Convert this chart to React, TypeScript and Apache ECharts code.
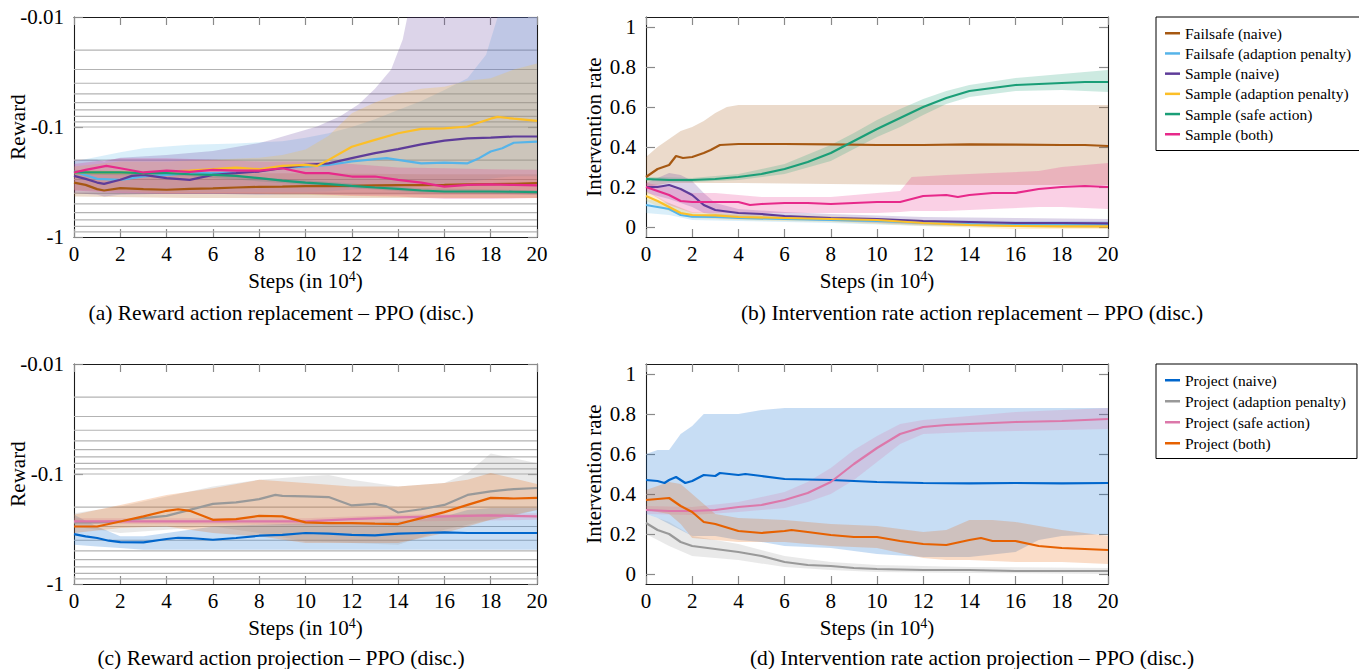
import React, { useEffect, useRef } from "react";
import * as echarts from "echarts";

const FONT = '"Liberation Serif", "Times New Roman", serif';

// ---------- axes ----------
const STEP_MIN = 0;
const STEP_MAX = 20;
const STEP_INTERVAL = 2;
const REWARD_TOP = -0.01;
const REWARD_BOTTOM = -1;
const REWARD_GRID_LINES = [-0.02, -0.03, -0.04, -0.05, -0.06, -0.07, -0.08, -0.09, -0.1, -0.2, -0.3, -0.4, -0.5, -0.6, -0.7, -0.8, -0.9];
const RATE_MIN = -0.05;
const RATE_MAX = 1.05;
const RATE_TICKS = [0, 0.2, 0.4, 0.6, 0.8, 1];

const REPLACEMENT_NAMES = [
  "Failsafe (naive)",
  "Failsafe (adaption penalty)",
  "Sample (naive)",
  "Sample (adaption penalty)",
  "Sample (safe action)",
  "Sample (both)",
];
const PROJECTION_NAMES = ["Project (naive)", "Project (adaption penalty)", "Project (safe action)", "Project (both)"];

const REPLACEMENT_COLORS = ["#a65812", "#56b4e9", "#5e3c99", "#fcbf27", "#1a9e77", "#e7298a"];
const PROJECTION_COLORS = ["#0066cc", "#999999", "#dc78aa", "#e66101"];

const CAPTIONS = [
  "(a) Reward action replacement – PPO (disc.)",
  "(b) Intervention rate action replacement – PPO (disc.)",
  "(c) Reward action projection – PPO (disc.)",
  "(d) Intervention rate action projection – PPO (disc.)",
];

// ---------- (a) reward, action replacement: [step, reward] ----------
const REW_REP_FAILSAFE_NAIVE = [[0,-0.320],[0.5,-0.336],[1,-0.367],[1.3,-0.378],[2,-0.360],[3,-0.367],[4,-0.372],[5,-0.365],[6,-0.362],[7,-0.355],[8,-0.350],[9,-0.348],[10,-0.345],[11,-0.345],[12,-0.343],[13,-0.340],[14,-0.338],[15,-0.338],[16,-0.336],[17,-0.333],[18,-0.331],[19,-0.329],[20,-0.324]];
const REW_REP_FAILSAFE_PEN = [[0,-0.254],[1,-0.296],[2,-0.302],[3,-0.282],[4,-0.272],[5,-0.263],[6,-0.263],[7,-0.259],[8,-0.245],[9,-0.234],[10,-0.229],[11,-0.221],[12,-0.206],[13,-0.196],[13.5,-0.192],[14,-0.199],[15,-0.214],[16,-0.211],[17,-0.214],[17.5,-0.192],[18,-0.167],[18.5,-0.156],[19,-0.139],[20,-0.136]];
const REW_REP_SAMPLE_NAIVE = [[0,-0.278],[0.5,-0.296],[1,-0.320],[1.3,-0.329],[2,-0.302],[2.5,-0.278],[3,-0.272],[4,-0.292],[5,-0.302],[6,-0.272],[7,-0.263],[8,-0.254],[9,-0.237],[10,-0.221],[11,-0.214],[12,-0.192],[13,-0.173],[14,-0.159],[15,-0.144],[16,-0.133],[17,-0.127],[18,-0.125],[19,-0.122],[20,-0.122]];
const REW_REP_SAMPLE_PEN = [[0,-0.259],[1,-0.259],[2,-0.259],[3,-0.263],[4,-0.254],[5,-0.249],[6,-0.242],[7,-0.234],[8,-0.242],[9,-0.226],[10,-0.221],[10.5,-0.226],[11,-0.199],[12,-0.151],[13,-0.131],[14,-0.114],[15,-0.104],[16,-0.103],[17,-0.099],[17.5,-0.091],[18,-0.084],[18.3,-0.081],[19,-0.084],[20,-0.088]];
const REW_REP_SAMPLE_SAFE = [[0,-0.259],[2,-0.259],[3,-0.263],[4,-0.263],[5,-0.269],[6,-0.272],[7,-0.278],[8,-0.292],[9,-0.307],[10,-0.320],[11,-0.331],[12,-0.343],[13,-0.355],[14,-0.365],[15,-0.378],[16,-0.386],[17,-0.386],[18,-0.386],[19,-0.388],[20,-0.391]];
const REW_REP_SAMPLE_BOTH = [[0,-0.259],[0.5,-0.245],[1.4,-0.226],[2,-0.237],[3,-0.259],[4,-0.249],[5,-0.256],[6,-0.245],[7,-0.249],[8,-0.249],[9,-0.237],[10,-0.263],[11,-0.263],[12,-0.282],[13,-0.282],[14,-0.302],[15,-0.320],[16,-0.348],[17,-0.336],[18,-0.333],[19,-0.336],[20,-0.340]];

// bands: [step, upper reward, lower reward]
const BAND_REW_REP_FAILSAFE_NAIVE = [[0,-0.245,-0.428],[5,-0.263,-0.443],[10,-0.263,-0.443],[15,-0.269,-0.443],[20,-0.269,-0.443]];
const BAND_REW_REP_FAILSAFE_PEN = [[0,-0.206,-0.372],[2,-0.17,-0.39],[3,-0.156,-0.39],[5,-0.145,-0.39],[7,-0.141,-0.39],[9,-0.135,-0.39],[10,-0.125,-0.39],[11,-0.114,-0.385],[12,-0.1,-0.37],[13,-0.085,-0.36],[14,-0.07,-0.35],[15,-0.058,-0.34],[16,-0.046,-0.33],[17,-0.036,-0.32],[17.8,-0.022,-0.3],[18.3,-0.01,-0.29],[19,-0.006,-0.28],[20,-0.006,-0.28]];
const BAND_REW_REP_SAMPLE_NAIVE = [[0,-0.199,-0.399],[1,-0.199,-0.413],[1.3,-0.206,-0.428],[2,-0.19,-0.413],[4,-0.18,-0.405],[6,-0.165,-0.405],[8,-0.14,-0.413],[8.5,-0.131,-0.413],[9.5,-0.114,-0.413],[10.5,-0.099,-0.413],[11.5,-0.08,-0.413],[12.3,-0.062,-0.413],[13,-0.045,-0.413],[13.7,-0.03,-0.413],[14.2,-0.016,-0.413],[14.4,-0.01,-0.413],[15,-0.006,-0.413],[20,-0.006,-0.413]];
const BAND_REW_REP_SAMPLE_PEN = [[0,-0.229,-0.372],[2,-0.206,-0.385],[4,-0.206,-0.399],[6,-0.199,-0.399],[8,-0.19,-0.405],[9,-0.18,-0.41],[10,-0.16,-0.413],[11,-0.12,-0.42],[12,-0.075,-0.425],[13,-0.06,-0.428],[14,-0.05,-0.43],[15,-0.045,-0.435],[16,-0.043,-0.44],[17,-0.038,-0.443],[18,-0.036,-0.443],[19,-0.03,-0.443],[20,-0.0265,-0.443]];
const BAND_REW_REP_SAMPLE_SAFE = [[0,-0.25,-0.27],[5,-0.26,-0.28],[10,-0.305,-0.335],[15,-0.36,-0.395],[20,-0.375,-0.41]];
const BAND_REW_REP_SAMPLE_BOTH = [[0,-0.217,-0.378],[2,-0.192,-0.399],[4,-0.192,-0.405],[6,-0.199,-0.405],[8,-0.206,-0.405],[10,-0.206,-0.405],[12,-0.217,-0.422],[14,-0.234,-0.428],[16,-0.237,-0.452],[18,-0.242,-0.452],[20,-0.245,-0.443]];

// ---------- (b) intervention rate, action replacement ----------
const RATE_REP_FAILSAFE_NAIVE = [[0,0.25],[0.5,0.29],[1,0.31],[1.3,0.355],[1.6,0.345],[2,0.35],[2.5,0.37],[2.8,0.385],[3.2,0.41],[4,0.415],[6,0.415],[8,0.413],[10,0.41],[12,0.41],[14,0.413],[16,0.412],[18,0.41],[19,0.41],[20,0.405]];
const RATE_REP_FAILSAFE_PEN = [[0,0.11],[0.5,0.1],[1,0.09],[1.5,0.06],[2,0.052],[3,0.05],[4,0.045],[6,0.04],[8,0.035],[10,0.03],[12,0.02],[14,0.015],[16,0.012],[18,0.012],[20,0.012]];
const RATE_REP_SAMPLE_NAIVE = [[0,0.2],[0.5,0.2],[1,0.21],[1.5,0.19],[2,0.16],[2.5,0.11],[3,0.085],[4,0.07],[5,0.065],[6,0.055],[8,0.045],[10,0.04],[12,0.03],[14,0.025],[16,0.02],[18,0.02],[20,0.018]];
const RATE_REP_SAMPLE_PEN = [[0,0.155],[0.5,0.13],[1,0.1],[1.5,0.07],[2,0.06],[3,0.058],[4,0.05],[6,0.045],[8,0.04],[10,0.035],[12,0.02],[14,0.01],[16,0.005],[18,0.003],[20,0.003]];
const RATE_REP_SAMPLE_SAFE = [[0,0.24],[1,0.235],[2,0.235],[3,0.24],[4,0.25],[5,0.265],[6,0.29],[7,0.325],[8,0.37],[9,0.43],[10,0.49],[11,0.545],[12,0.6],[13,0.645],[14,0.68],[15,0.695],[16,0.71],[17,0.715],[18,0.72],[19,0.725],[20,0.725]];
const RATE_REP_SAMPLE_BOTH = [[0,0.2],[0.5,0.18],[1,0.16],[1.5,0.13],[2,0.125],[3,0.125],[4,0.125],[4.5,0.11],[5,0.115],[6,0.12],[7,0.12],[8,0.115],[9,0.12],[10,0.125],[11,0.125],[11.5,0.14],[12,0.155],[13,0.16],[13.5,0.15],[14,0.16],[15,0.17],[16,0.17],[17,0.19],[18,0.2],[19,0.205],[20,0.2]];

const BAND_RATE_REP_FAILSAFE_NAIVE = [[0,0.2,0.35],[0.5,0.21,0.4],[1,0.22,0.44],[1.5,0.22,0.48],[2,0.22,0.5],[2.5,0.22,0.53],[3,0.22,0.57],[3.5,0.22,0.6],[4,0.22,0.61],[8,0.215,0.61],[12,0.21,0.61],[16,0.21,0.61],[20,0.21,0.61]];
const BAND_RATE_REP_FAILSAFE_PEN = [[0,0.07,0.14],[1,0.06,0.12],[2,0.035,0.07],[4,0.03,0.06],[8,0.02,0.05],[12,0.005,0.035],[16,0,0.03],[20,0,0.03]];
const BAND_RATE_REP_SAMPLE_NAIVE = [[0,0.17,0.22],[1,0.14,0.27],[1.5,0.12,0.26],[2,0.1,0.23],[2.5,0.07,0.17],[3,0.06,0.12],[4,0.05,0.09],[6,0.04,0.075],[8,0.03,0.065],[12,0.01,0.05],[16,0,0.045],[20,-0.005,0.04]];
const BAND_RATE_REP_SAMPLE_PEN = [[0,0.13,0.18],[1,0.08,0.12],[2,0.045,0.075],[4,0.035,0.065],[8,0.025,0.055],[12,0.005,0.035],[16,-0.01,0.02],[20,-0.01,0.015]];
const BAND_RATE_REP_SAMPLE_SAFE = [[0,0.23,0.25],[2,0.225,0.245],[4,0.235,0.265],[6,0.265,0.315],[8,0.33,0.41],[9,0.39,0.47],[10,0.45,0.535],[11,0.5,0.59],[12,0.56,0.64],[13,0.615,0.68],[14,0.65,0.71],[16,0.68,0.745],[18,0.685,0.765],[20,0.675,0.785]];
const BAND_RATE_REP_SAMPLE_BOTH = [[0,0.18,0.22],[1,0.11,0.2],[2,0.07,0.17],[3,0.07,0.17],[5,0.07,0.15],[8,0.07,0.15],[10,0.07,0.17],[11,0.075,0.18],[11.5,0.08,0.25],[13,0.08,0.26],[15,0.09,0.27],[17,0.1,0.28],[18,0.1,0.3],[20,0.09,0.32]];

// ---------- (c) reward, action projection ----------
const REW_PROJ_NAIVE = [[0,-0.352],[0.5,-0.369],[1,-0.382],[1.5,-0.404],[2,-0.416],[3,-0.419],[4,-0.390],[4.5,-0.380],[5,-0.382],[6,-0.396],[7,-0.382],[8,-0.364],[9,-0.357],[10,-0.344],[11,-0.349],[12,-0.357],[13,-0.362],[14,-0.349],[15,-0.344],[16,-0.340],[17,-0.344],[18,-0.344],[19,-0.344],[20,-0.344]];
const REW_PROJ_PEN = [[0,-0.275],[1,-0.275],[2,-0.270],[3,-0.252],[4,-0.240],[5,-0.212],[6,-0.187],[7,-0.181],[8,-0.169],[8.7,-0.155],[9,-0.158],[10,-0.160],[11,-0.162],[12,-0.193],[13,-0.187],[13.5,-0.197],[14,-0.224],[15,-0.209],[16,-0.191],[17,-0.155],[18,-0.144],[19,-0.137],[20,-0.134]];
const REW_PROJ_SAFE = [[0,-0.270],[5,-0.270],[10,-0.270],[12,-0.257],[14,-0.248],[16,-0.243],[18,-0.238],[20,-0.243]];
const REW_PROJ_BOTH = [[0,-0.300],[1,-0.300],[2,-0.270],[3,-0.243],[4,-0.216],[4.5,-0.209],[5,-0.216],[6,-0.261],[7,-0.257],[8,-0.240],[9,-0.243],[10,-0.275],[11,-0.280],[12,-0.280],[13,-0.283],[14,-0.285],[15,-0.252],[16,-0.222],[17,-0.191],[18,-0.165],[19,-0.167],[20,-0.165]];

const BAND_REW_PROJ_NAIVE = [[0,-0.235,-0.44],[1,-0.30,-0.455],[2,-0.369,-0.471],[3,-0.369,-0.488],[4,-0.344,-0.488],[5,-0.321,-0.488],[6,-0.30,-0.488],[8,-0.289,-0.488],[10,-0.28,-0.488],[12,-0.28,-0.488],[14,-0.27,-0.488],[16,-0.243,-0.488],[17,-0.212,-0.488],[18,-0.204,-0.488],[20,-0.204,-0.488]];
const BAND_REW_PROJ_PEN = [[0,-0.227,-0.30],[2,-0.197,-0.344],[4,-0.160,-0.321],[6,-0.130,-0.30],[8,-0.113,-0.344],[10,-0.105,-0.41],[11,-0.102,-0.415],[12,-0.113,-0.424],[14,-0.130,-0.44],[16,-0.121,-0.321],[17,-0.098,-0.29],[18,-0.065,-0.261],[19,-0.072,-0.24],[20,-0.080,-0.212]];
const BAND_REW_PROJ_SAFE = [[0,-0.252,-0.283],[10,-0.252,-0.289],[14,-0.235,-0.27],[20,-0.227,-0.261]];
const BAND_REW_PROJ_BOTH = [[0,-0.235,-0.344],[2,-0.191,-0.310],[4,-0.155,-0.30],[6,-0.135,-0.344],[8,-0.113,-0.369],[10,-0.121,-0.424],[12,-0.130,-0.424],[14,-0.130,-0.424],[16,-0.121,-0.344],[17,-0.113,-0.30],[18,-0.098,-0.261],[20,-0.123,-0.212]];

// ---------- (d) intervention rate, action projection ----------
const RATE_PROJ_NAIVE = [[0,0.47],[0.5,0.465],[0.8,0.455],[1,0.47],[1.3,0.485],[1.7,0.455],[2,0.465],[2.5,0.495],[3,0.49],[3.2,0.505],[4,0.495],[4.3,0.5],[5,0.49],[6,0.475],[8,0.47],[10,0.46],[12,0.455],[14,0.453],[16,0.455],[18,0.453],[20,0.455]];
const RATE_PROJ_PEN = [[0,0.255],[0.5,0.22],[1,0.2],[1.5,0.16],[2,0.14],[3,0.125],[4,0.11],[5,0.09],[6,0.06],[7,0.045],[8,0.04],[9,0.03],[10,0.025],[12,0.02],[14,0.02],[16,0.015],[18,0.015],[20,0.015]];
const RATE_PROJ_SAFE = [[0,0.32],[1,0.315],[2,0.315],[3,0.32],[4,0.335],[5,0.345],[6,0.37],[7,0.405],[8,0.46],[9,0.55],[10,0.63],[11,0.7],[12,0.735],[13,0.745],[14,0.75],[16,0.76],[18,0.765],[20,0.775]];
const RATE_PROJ_BOTH = [[0,0.37],[0.5,0.375],[1,0.38],[1.5,0.34],[2,0.31],[2.5,0.26],[3,0.25],[4,0.215],[5,0.205],[6,0.215],[6.3,0.22],[7,0.21],[8,0.195],[9,0.185],[10,0.185],[11,0.165],[12,0.15],[13,0.145],[14,0.17],[14.5,0.18],[15,0.165],[16,0.165],[17,0.14],[18,0.13],[19,0.125],[20,0.12]];

const BAND_RATE_PROJ_NAIVE = [[0,0.3,0.6],[0.5,0.28,0.62],[1,0.25,0.62],[1.5,0.22,0.7],[2,0.19,0.74],[2.5,0.19,0.8],[3,0.19,0.8],[4,0.17,0.8],[5,0.16,0.82],[6,0.14,0.83],[8,0.13,0.83],[10,0.1,0.83],[12,0.085,0.83],[14,0.085,0.83],[16,0.11,0.83],[17,0.17,0.83],[18,0.19,0.83],[20,0.2,0.83]];
const BAND_RATE_PROJ_PEN = [[0,0.2,0.3],[1,0.14,0.26],[2,0.09,0.19],[3,0.08,0.17],[4,0.07,0.15],[6,0.035,0.09],[8,0.02,0.06],[10,0.01,0.045],[14,0.005,0.035],[20,0,0.03]];
const BAND_RATE_PROJ_SAFE = [[0,0.3,0.34],[2,0.295,0.335],[4,0.31,0.36],[6,0.33,0.41],[7,0.36,0.46],[8,0.4,0.53],[9,0.47,0.62],[10,0.56,0.69],[11,0.65,0.75],[12,0.7,0.77],[14,0.71,0.79],[16,0.715,0.81],[18,0.72,0.82],[20,0.725,0.83]];
const BAND_RATE_PROJ_BOTH = [[0,0.32,0.42],[1,0.3,0.46],[1.5,0.25,0.45],[2,0.18,0.4],[3,0.17,0.3],[4,0.16,0.28],[6,0.16,0.27],[8,0.14,0.25],[10,0.13,0.24],[12,0.08,0.21],[13,0.07,0.22],[14,0.07,0.27],[15,0.065,0.27],[16,0.06,0.26],[18,0.06,0.22],[20,0.05,0.19]];

// ---------- panel assembly ----------
type Entry = { line: number[][]; band: number[][] };
const PANELS: { kind: "reward" | "rate"; names: string[]; colors: string[]; entries: Entry[] }[] = [
  {
    kind: "reward", names: REPLACEMENT_NAMES, colors: REPLACEMENT_COLORS,
    entries: [
      { line: REW_REP_FAILSAFE_NAIVE, band: BAND_REW_REP_FAILSAFE_NAIVE },
      { line: REW_REP_FAILSAFE_PEN, band: BAND_REW_REP_FAILSAFE_PEN },
      { line: REW_REP_SAMPLE_NAIVE, band: BAND_REW_REP_SAMPLE_NAIVE },
      { line: REW_REP_SAMPLE_PEN, band: BAND_REW_REP_SAMPLE_PEN },
      { line: REW_REP_SAMPLE_SAFE, band: BAND_REW_REP_SAMPLE_SAFE },
      { line: REW_REP_SAMPLE_BOTH, band: BAND_REW_REP_SAMPLE_BOTH },
    ],
  },
  {
    kind: "rate", names: REPLACEMENT_NAMES, colors: REPLACEMENT_COLORS,
    entries: [
      { line: RATE_REP_FAILSAFE_NAIVE, band: BAND_RATE_REP_FAILSAFE_NAIVE },
      { line: RATE_REP_FAILSAFE_PEN, band: BAND_RATE_REP_FAILSAFE_PEN },
      { line: RATE_REP_SAMPLE_NAIVE, band: BAND_RATE_REP_SAMPLE_NAIVE },
      { line: RATE_REP_SAMPLE_PEN, band: BAND_RATE_REP_SAMPLE_PEN },
      { line: RATE_REP_SAMPLE_SAFE, band: BAND_RATE_REP_SAMPLE_SAFE },
      { line: RATE_REP_SAMPLE_BOTH, band: BAND_RATE_REP_SAMPLE_BOTH },
    ],
  },
  {
    kind: "reward", names: PROJECTION_NAMES, colors: PROJECTION_COLORS,
    entries: [
      { line: REW_PROJ_NAIVE, band: BAND_REW_PROJ_NAIVE },
      { line: REW_PROJ_PEN, band: BAND_REW_PROJ_PEN },
      { line: REW_PROJ_SAFE, band: BAND_REW_PROJ_SAFE },
      { line: REW_PROJ_BOTH, band: BAND_REW_PROJ_BOTH },
    ],
  },
  {
    kind: "rate", names: PROJECTION_NAMES, colors: PROJECTION_COLORS,
    entries: [
      { line: RATE_PROJ_NAIVE, band: BAND_RATE_PROJ_NAIVE },
      { line: RATE_PROJ_PEN, band: BAND_RATE_PROJ_PEN },
      { line: RATE_PROJ_SAFE, band: BAND_RATE_PROJ_SAFE },
      { line: RATE_PROJ_BOTH, band: BAND_RATE_PROJ_BOTH },
    ],
  },
];

const GRIDS = [
  { left: 74, top: 17, width: 463, height: 220 },
  { left: 646, top: 17, width: 462, height: 220 },
  { left: 74, top: 364, width: 463, height: 220 },
  { left: 646, top: 364, width: 462, height: 220 },
];
const CAPTION_POS = [[281, 313], [972, 313], [281, 658], [972, 658]];

function rgba(hex: string, a: number) {
  const n = parseInt(hex.slice(1), 16);
  return `rgba(${(n >> 16) & 255},${(n >> 8) & 255},${n & 255},${a})`;
}

const AXIS_LINE = { show: true, onZero: false, lineStyle: { color: "#1a1a1a", width: 1.1 } };
const TICK_STYLE = { color: "#8a8a8a", width: 1.2 };

function xAxisPair(g: number) {
  const common: any = {
    type: "value", gridIndex: g, min: STEP_MIN, max: STEP_MAX, interval: STEP_INTERVAL,
    splitLine: { show: false }, axisLine: AXIS_LINE,
    axisTick: { show: true, inside: true, length: 8, lineStyle: TICK_STYLE },
  };
  return [
    {
      ...common, position: "bottom",
      axisLabel: { show: true, margin: 6, fontFamily: FONT, fontSize: 21, color: "#000" },
      name: "{a|Steps (in 10}{s|4}{a|)}", nameLocation: "middle", nameGap: 32, nameMoveOverlap: false,
      nameTextStyle: {
        rich: {
          a: { fontFamily: FONT, fontSize: 21, color: "#000", lineHeight: 24 },
          s: { fontFamily: FONT, fontSize: 14, color: "#000", lineHeight: 14, verticalAlign: "top" },
        },
      },
    },
    { ...common, position: "top", axisLabel: { show: false } },
  ];
}

function yAxisPair(g: number, kind: "reward" | "rate") {
  const isReward = kind === "reward";
  const scale: any = isReward
    ? { type: "log", logBase: 10, min: -REWARD_TOP, max: -REWARD_BOTTOM, inverse: true }
    : { type: "value", min: RATE_MIN, max: RATE_MAX };
  const custom = isReward ? {} : { customValues: RATE_TICKS };
  const common: any = {
    ...scale, gridIndex: g, splitLine: { show: false }, axisLine: AXIS_LINE,
    axisTick: { show: true, inside: true, length: 9, lineStyle: TICK_STYLE, ...custom },
  };
  return [
    {
      ...common, position: "left",
      axisLabel: {
        show: true, margin: 10, fontFamily: FONT, fontSize: 21, color: "#000", ...custom,
        formatter: isReward
          ? (v: number) => "-" + Number(Number(v).toPrecision(3))
          : (v: number) => String(Number(Number(v).toFixed(1))),
      },
      name: isReward ? "Reward" : "Intervention rate",
      nameLocation: "middle", nameRotate: 90, nameGap: isReward ? 46 : 42, nameMoveOverlap: false,
      nameTextStyle: { fontFamily: FONT, fontSize: 21, color: "#000" },
    },
    { ...common, position: "right", axisLabel: { show: false } },
  ];
}

function buildOption() {
  const xAxis: any[] = [];
  const yAxis: any[] = [];
  const gridLineSeries: any[] = [];
  const bandSeries: any[] = [];
  const lineSeries: any[] = [];

  PANELS.forEach((p, g) => {
    xAxis.push(...xAxisPair(g));
    yAxis.push(...yAxisPair(g, p.kind));
    const xi = 2 * g;
    const yi = 2 * g;
    const toAxis = p.kind === "reward" ? (r: number) => -r : (r: number) => r;

    if (p.kind === "reward") {
      gridLineSeries.push({
        type: "custom", xAxisIndex: xi, yAxisIndex: yi, silent: true, z: 1,
        data: REWARD_GRID_LINES.map((r) => [STEP_MIN, toAxis(r)]),
        encode: { x: 0, y: 1 },
        renderItem: (params: any, api: any) => {
          const v = api.value(1);
          const a = api.coord([STEP_MIN, v]);
          const b = api.coord([STEP_MAX, v]);
          return { type: "line", shape: { x1: a[0], y1: a[1], x2: b[0], y2: b[1] }, style: { stroke: "#b3b3b3", lineWidth: 1.2 } };
        },
      });
    }

    p.entries.forEach((e, i) => {
      const color = p.colors[i];
      const pts = e.band.map(([x, a, b]) => [x, toAxis(a), toAxis(b)]);
      bandSeries.push({
        type: "custom", name: `band-${g}-${i}`, xAxisIndex: xi, yAxisIndex: yi, silent: true, z: 2,
        data: pts, encode: { x: 0, y: [1, 2] },
        renderItem: (params: any, api: any) => {
          if (params.dataIndex !== 0) return null;
          const cs = params.coordSys;
          const clamp = (q: number[]) => [
            Math.min(Math.max(q[0], cs.x), cs.x + cs.width),
            Math.min(Math.max(q[1], cs.y), cs.y + cs.height),
          ];
          const upper = pts.map((q) => clamp(api.coord([q[0], q[1]])));
          const lower = pts.map((q) => clamp(api.coord([q[0], q[2]]))).reverse();
          return { type: "polygon", shape: { points: upper.concat(lower) }, style: { fill: rgba(color, 0.22) } };
        },
      });
      lineSeries.push({
        type: "line", name: p.names[i], xAxisIndex: xi, yAxisIndex: yi, z: 3,
        data: e.line.map(([x, v]) => [x, toAxis(v)]),
        color, showSymbol: false, symbol: "none", silent: true, clip: true,
        lineStyle: { color, width: 2.2 }, itemStyle: { color },
      });
    });
  });

  const legendCommon: any = {
    orient: "vertical", icon: "rect", itemWidth: 15, itemHeight: 2.5, itemGap: 3.7,
    borderColor: "#000", borderWidth: 1, backgroundColor: "#fff", selectedMode: false,
    textStyle: { fontFamily: FONT, fontSize: 15.5, color: "#000", lineHeight: 16.5 },
  };

  return {
    animation: false,
    backgroundColor: "#fff",
    grid: GRIDS.map((g) => ({ ...g, containLabel: false, outerBoundsMode: "none" })),
    xAxis, yAxis,
    legend: [
      { ...legendCommon, left: 1156, top: 17, padding: [8, 11, 8, 9], data: REPLACEMENT_NAMES },
      { ...legendCommon, left: 1156, top: 364, padding: [8, 11, 7, 9], itemGap: 4.5, data: PROJECTION_NAMES },
    ],
    series: [...gridLineSeries, ...bandSeries, ...lineSeries],
    graphic: CAPTIONS.map((t, i) => ({
      type: "text", x: CAPTION_POS[i][0], y: CAPTION_POS[i][1], silent: true,
      style: { text: t, fontFamily: FONT, fontSize: 21.5, fill: "#000", align: "center", verticalAlign: "middle" },
    })),
  };
}

export default function App() {
  const ref = useRef<HTMLDivElement>(null);
  useEffect(() => {
    if (!ref.current) return;
    const chart = echarts.init(ref.current, null, { renderer: "svg" });
    chart.setOption(buildOption() as any);
    return () => chart.dispose();
  }, []);
  return (
    <div
      ref={ref}
      style={{ position: "fixed", left: 0, top: 0, width: 1359, height: 669, background: "#fff" }}
    />
  );
}
